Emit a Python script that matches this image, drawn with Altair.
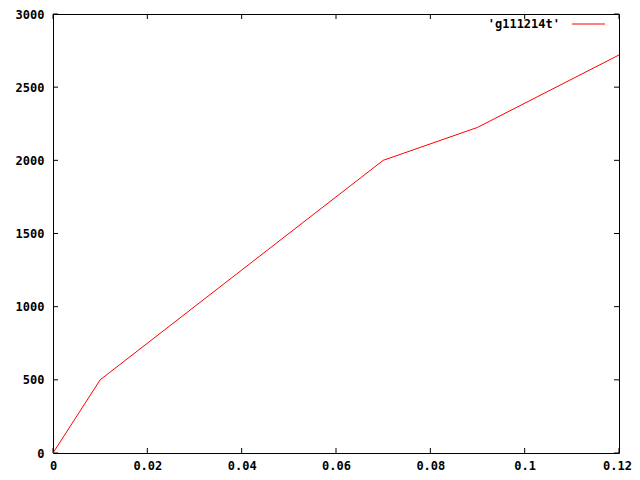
import altair as alt
import pandas as pd

xs = [0.0, 0.01, 0.07, 0.09, 0.12]
ys = [0, 500, 2000, 2225, 2720]
x_ticks = [0, 0.02, 0.04, 0.06, 0.08, 0.1, 0.12]
y_ticks = [0, 500, 1000, 1500, 2000, 2500, 3000]
series_name = "'g111214t'"

W, H = 566, 439
FONT = "DejaVu Sans Mono"
FS = 12

df = pd.DataFrame({"x": xs, "y": ys})
xt = pd.DataFrame({"t": x_ticks})
yt = pd.DataFrame({"t": y_ticks})

xscale = alt.Scale(domain=[0, 0.12], nice=False, zero=False)
yscale = alt.Scale(domain=[0, 3000], nice=False, zero=False)

line = alt.Chart(df).mark_line(color="#ff0000", strokeWidth=1, clip=True).encode(
    x=alt.X("x:Q", scale=xscale,
            axis=alt.Axis(values=x_ticks, title=None, ticks=False, domain=False, grid=False,
                          format="~g", labelFont=FONT, labelFontWeight="bold", labelFontSize=FS,
                          labelColor="black", labelPadding=7, labelFlush=False, labelOverlap=False,
                          labelOffset={"expr": "datum.value >= 0.119 ? -2 : 0"})),
    y=alt.Y("y:Q", scale=yscale,
            axis=alt.Axis(values=y_ticks, title=None, ticks=False, domain=False, grid=False,
                          format="d", labelFont=FONT, labelFontWeight="bold", labelFontSize=FS,
                          labelColor="black", labelPadding=9, labelFlush=False, labelOverlap=False)),
)

tl = 5
xt_bottom = alt.Chart(xt).mark_rule(color="black", strokeWidth=1).encode(
    x=alt.X("t:Q", scale=xscale), y=alt.value(H), y2=alt.value(H - tl))
xt_top = alt.Chart(xt).mark_rule(color="black", strokeWidth=1).encode(
    x=alt.X("t:Q", scale=xscale), y=alt.value(0), y2=alt.value(tl))
yt_left = alt.Chart(yt).mark_rule(color="black", strokeWidth=1).encode(
    y=alt.Y("t:Q", scale=yscale), x=alt.value(0), x2=alt.value(tl))
yt_right = alt.Chart(yt).mark_rule(color="black", strokeWidth=1).encode(
    y=alt.Y("t:Q", scale=yscale), x=alt.value(W), x2=alt.value(W - tl))

leg = pd.DataFrame({"name": [series_name]})
leg_text = alt.Chart(leg).mark_text(align="right", baseline="middle", font=FONT,
                                    fontWeight="bold", fontSize=FS, color="black").encode(
    text="name:N", x=alt.value(507), y=alt.value(10))
leg_line = alt.Chart(leg).mark_rule(color="#ff0000", strokeWidth=1).encode(
    x=alt.value(519), x2=alt.value(552), y=alt.value(10))

chart = alt.layer(xt_bottom, xt_top, yt_left, yt_right, line, leg_text, leg_line).properties(
    width=W, height=H,
    background="white",
    autosize=alt.AutoSizeParams(type="none"),
    padding={"left": 45, "top": 6, "right": 13, "bottom": 19},
).configure_view(stroke="black", strokeWidth=1, strokeOpacity=1)

chart.save("out.html", embed_options={"renderer": "svg", "actions": False})
